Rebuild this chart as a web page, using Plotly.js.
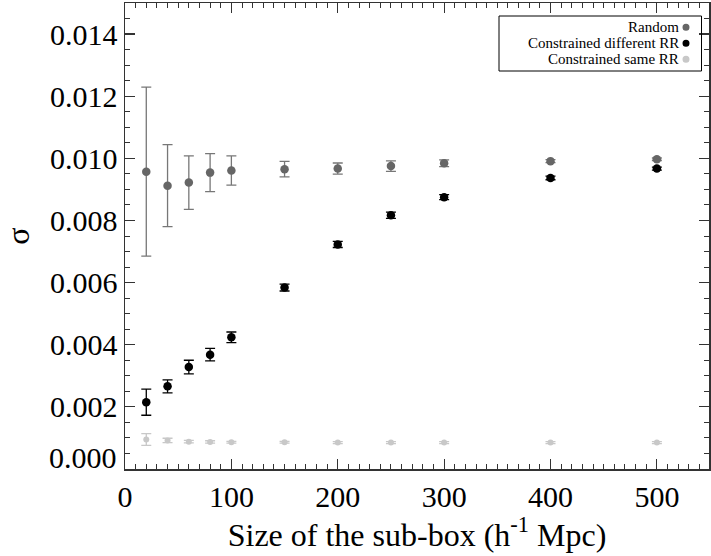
<!DOCTYPE html>
<html>
<head>
<meta charset="utf-8">
<script src="https://cdn.plot.ly/plotly-3.0.1.min.js"></script>
<style>html,body{margin:0;padding:0;background:#fff;}#chart{width:711px;height:556px;}</style>
</head>
<body>
<div id="chart"></div>
<script>
const sizes = [20, 40, 60, 80, 100, 150, 200, 250, 300, 400, 500];
const randomSigma = [0.00957, 0.00912, 0.00922, 0.00954, 0.00961, 0.00965, 0.00967, 0.00975, 0.00984, 0.00991, 0.00997];
const randomErr   = [0.00272, 0.00132, 0.00086, 0.00061, 0.00047, 0.00025, 0.00018, 0.00017, 0.00011, 0.00005, 0.00004];
const diffSigma   = [0.00215, 0.00266, 0.00328, 0.00368, 0.00424, 0.00584, 0.00723, 0.00817, 0.00875, 0.00937, 0.00967];
const diffErr     = [0.00042, 0.00021, 0.00022, 0.00020, 0.00017, 0.00011, 0.00010, 0.00010, 0.00008, 0.00006, 0.00005];
const sameSigma   = [0.00095, 0.00092, 0.00088, 0.00087, 0.00086, 0.00086, 0.00085, 0.00085, 0.00085, 0.00085, 0.00085];
const sameErr     = [0.00019, 0.00007, 0.00004, 0.00004, 0.00003, 0.00003, 0.00003, 0.00003, 0.00003, 0.00003, 0.00003];
const seriesNames = ['Random', 'Constrained different RR', 'Constrained same RR'];
const seriesColors = ['#666666', '#000000', '#c8c8c8'];
const yTickVals = [0.002, 0.004, 0.006, 0.008, 0.010, 0.012, 0.014];
const yTickText = ['0.002', '0.004', '0.006', '0.008', '0.010', '0.012', '0.014'];

const FONT = 'Liberation Serif, Times New Roman, serif';

function mk(y, err, i, size, errColor) {
  return {
    x: sizes, y: y, type: 'scatter', mode: 'markers', name: seriesNames[i],
    marker: {color: seriesColors[i], size: size},
    error_y: {type: 'data', array: err, visible: true, color: errColor, thickness: 1.3, width: 5},
    showlegend: false, hoverinfo: 'x+y'
  };
}
const traces = [
  mk(randomSigma, randomErr, 0, 8.5, '#777777'),
  mk(diffSigma, diffErr, 1, 8.5, '#000000'),
  mk(sameSigma, sameErr, 2, 6, '#c8c8c8')
];

// custom legend (text left of symbol)
const L = 125, R = 709, T = 3, B = 469;
const px = v => (v - L) / (R - L);
const py = v => (B - v) / (B - T);
const rows = [27.3, 43.3, 59.3];
const annotations = seriesNames.map((n, i) => ({
  xref: 'paper', yref: 'paper', x: px(680), y: py(rows[i]), xanchor: 'right', yanchor: 'middle',
  text: n, showarrow: false, font: {family: FONT, size: 15, color: '#000'}, borderpad: 0
}));
annotations.push({
  xref: 'paper', yref: 'y', x: 0, y: 0, xanchor: 'right', yanchor: 'middle', xshift: -6, yshift: 12,
  text: '0.000', showarrow: false, font: {family: FONT, size: 30, color: '#000'}
});
const shapes = [{
  type: 'rect', xref: 'paper', yref: 'paper', x0: px(499), x1: px(701.5), y0: py(71), y1: py(16),
  line: {color: '#000', width: 1}, fillcolor: 'rgba(0,0,0,0)'
}];
seriesColors.forEach((c, i) => shapes.push({
  type: 'circle', xref: 'paper', yref: 'paper', xsizemode: 'pixel', ysizemode: 'pixel',
  xanchor: px(686), yanchor: py(rows[i]), x0: -3.5, x1: 3.5, y0: -3.5, y1: 3.5,
  fillcolor: c, line: {width: 0}
}));

const axisCommon = {
  showline: true, linecolor: '#333', linewidth: 1.5, mirror: 'ticks',
  ticks: 'inside', ticklen: 10, tickwidth: 1.2, tickcolor: '#333',
  showgrid: false, zeroline: false,
  tickfont: {family: FONT, size: 30, color: '#000'}
};
const layout = {
  width: 711, height: 556,
  margin: {l: L, r: 711 - R, t: T, b: 556 - B},
  paper_bgcolor: '#fff', plot_bgcolor: '#fff',
  showlegend: false,
  xaxis: Object.assign({}, axisCommon, {
    range: [0, 549], tickvals: [0, 100, 200, 300, 400, 500],
    minor: {dtick: 10, ticks: 'inside', ticklen: 5, tickwidth: 1, tickcolor: '#333', showgrid: false},
    title: {text: 'Size of the sub-box (h<sup>-1</sup> Mpc)', font: {family: FONT, size: 32, color: '#000'}, standoff: 4}
  }),
  yaxis: Object.assign({}, axisCommon, {
    range: [0, 0.015], tickvals: yTickVals, ticktext: yTickText,
    minor: {dtick: 0.0005, ticks: 'inside', ticklen: 5, tickwidth: 1, tickcolor: '#333', showgrid: false},
    title: {text: 'σ', font: {family: FONT, size: 32, color: '#000'}, standoff: 18}
  }),
  annotations: annotations,
  shapes: shapes
};
Plotly.newPlot('chart', traces, layout, {staticPlot: true, displayModeBar: false});
</script>
</body>
</html>
